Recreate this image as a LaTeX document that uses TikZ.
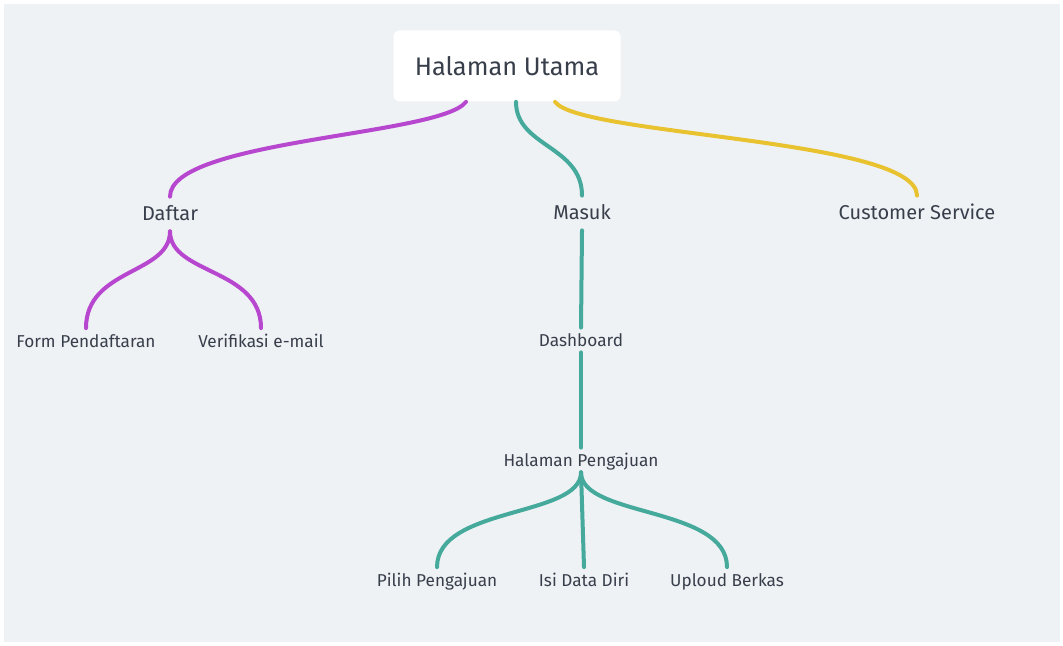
\documentclass[tikz,border=0pt]{standalone}
\usepackage{fontspec}
\setmainfont{Fira Sans}
\definecolor{bg}{HTML}{EEF2F5}
\definecolor{ink}{HTML}{383F4B}
\definecolor{purp}{HTML}{B647CE}
\definecolor{teal}{HTML}{45A99B}
\definecolor{gold}{HTML}{E9C22F}
\begin{document}
\begin{tikzpicture}[x=0.5pt,y=-0.5pt,
  txt/.style={text=ink,inner sep=0pt,text height=0.69em,text depth=0pt},
  big/.style={txt,font=\fontsize{12.7}{15}\selectfont,text height=0.93em},
  mid/.style={txt,font=\fontsize{10}{12}\selectfont,minimum height=17pt},
  small/.style={txt,font=\fontsize{8.6}{10}\selectfont,minimum height=12pt},
  ln/.style={line width=2pt,line cap=round}]
\useasboundingbox (0,0) rectangle (1063,646);
\fill[bg] (4,4) rectangle (1060,642);

\node[big,fill=white,rounded corners=3pt,minimum width=113.5pt,minimum height=35.5pt] (0) at (507,66) {Halaman Utama};
\node[mid] (1) at (170,214) {Daftar};
\node[mid] (2) at (582,213) {Masuk};
\node[mid] (3) at (917,213) {Customer Service};
\node[small] (4) at (86,340.5) {Form Pendaftaran};
\node[small] (5) at (261,340.5) {Verifikasi e-mail};
\node[small] (6) at (581,340) {Dashboard};
\node[small] (7) at (581,460) {Halaman Pengajuan};
\node[small] (8) at (437,579.5) {Pilih Pengajuan};
\node[small] (9) at (584,579.5) {Isi Data Diri};
\node[small] (10) at (727,579.5) {Uploud Berkas};

\draw[ln,purp] ([xshift=-20.5pt]0.south) .. controls +(-26,34) and +(0,-57) .. (1.north);
\draw[ln,teal] ([xshift=4.5pt]0.south) .. controls +(0,45) and +(0,-50) .. (2.north);
\draw[ln,gold] ([xshift=24pt]0.south) .. controls +(25,34) and +(0,-57) .. (3.north);

\draw[ln,purp] (1.south) .. controls +(0,43) and +(0,-60) .. (4.north);
\draw[ln,purp] (1.south) .. controls +(0,43) and +(0,-60) .. (5.north);

\draw[ln,teal] (2.south) -- (6.north);
\draw[ln,teal] (6.south) -- (7.north);
\draw[ln,teal] (7.south) .. controls +(0,45) and +(0,-61) .. (8.north);
\draw[ln,teal] (7.south) -- (9.north);
\draw[ln,teal] (7.south) .. controls +(0,45) and +(0,-61) .. (10.north);
\end{tikzpicture}
\end{document}
